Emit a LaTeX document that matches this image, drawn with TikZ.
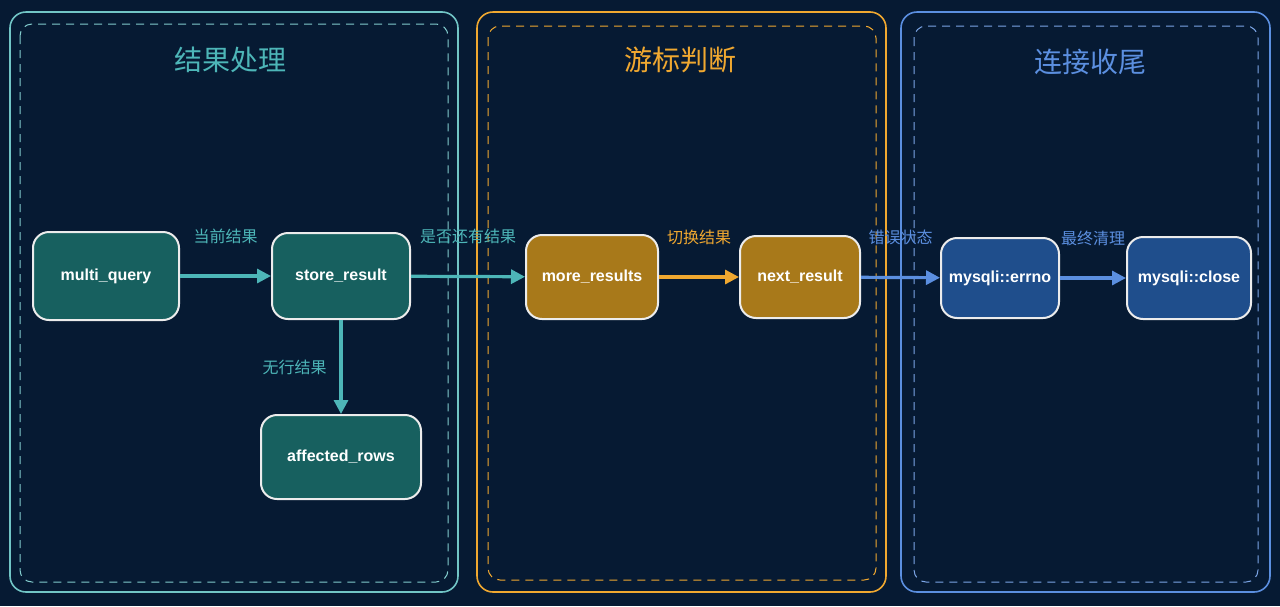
\documentclass[tikz,border=0pt]{standalone}
\usepackage{fontspec}
\setmainfont{Liberation Sans}
\newfontfamily\cjk{Noto Sans CJK SC}
\usetikzlibrary{arrows.meta,positioning}
\definecolor{bg_dark}{HTML}{061A33}
\definecolor{my_teal}{HTML}{4DB6B8}
\definecolor{my_orange}{HTML}{F0A830}
\definecolor{my_blue}{HTML}{5B8FE0}
\definecolor{fill_teal}{HTML}{17605F}
\definecolor{fill_orange}{HTML}{A8791A}
\definecolor{fill_blue}{HTML}{1F4E8C}
\tikzset{
  funcnode/.style = {draw=white!85!gray, line width=1pt, rounded corners=8pt, text=white,
    font=\bfseries\fontsize{8}{10}\selectfont, align=center},
  edgelabel/.style = {font=\cjk\fontsize{8}{10}\selectfont},
  title/.style = {font=\cjk\fontsize{14}{16}\selectfont},
  panel/.style = {line width=0.8pt, rounded corners=8pt},
  inner_panel/.style = {line width=0.5pt, dashed, dash pattern=on 4pt off 3pt, rounded corners=6pt}
}
\begin{document}
\begin{tikzpicture}[x=0.5pt,y=-0.5pt,
    flow/.style={-{Triangle[length=7pt,width=7pt]}, line width=1.6pt}]
  \fill[bg_dark] (0,0) rectangle (1280,606);
  \useasboundingbox (0,0) rectangle (1280,606);
  % panels
  \draw[panel, my_teal!80] (10,12) rectangle (458,592);
  \draw[inner_panel, my_teal!70] (20,24) rectangle (448,582);
  \draw[panel, my_orange] (477,12) rectangle (886,592);
  \draw[inner_panel, my_orange] (488,26) rectangle (876,580);
  \draw[panel, my_blue] (901,12) rectangle (1270,592);
  \draw[inner_panel, my_blue!80] (914,26) rectangle (1258,582);
  \node[title, text=my_teal] (t_result) at (230,60) {结果处理};
  \node[title, text=my_orange] (t_cursor) at (680,60) {游标判断};
  \node[title, text=my_blue] (t_conn) at (1090,62) {连接收尾};
  % nodes
  \node[funcnode, fill=fill_teal, minimum width=73pt, minimum height=44pt] (multi) at (106,276) {multi\_query};
  \node[funcnode, fill=fill_teal, minimum width=69pt, minimum height=43pt] (store) at (341,276) {store\_result};
  \node[funcnode, fill=fill_teal, minimum width=80pt, minimum height=42pt] (affected) at (341,457) {affected\_rows};
  \node[funcnode, fill=fill_orange, minimum width=66pt, minimum height=42pt] (more) at (592,277) {more\_results};
  \node[funcnode, fill=fill_orange, minimum width=60pt, minimum height=41pt] (next) at (800,277) {next\_result};
  \node[funcnode, fill=fill_blue, minimum width=59pt, minimum height=40pt] (errno) at (1000,278) {mysqli::errno};
  \node[funcnode, fill=fill_blue, minimum width=62pt, minimum height=41pt] (close) at (1189,278) {mysqli::close};
  % edges
  \draw[flow, my_teal] (multi) -- node[edgelabel, above=12pt] {当前结果} (store);
  \draw[flow, my_teal] (store) -- node[edgelabel, above=12pt] {是否还有结果} (more);
  \draw[flow, my_teal] (store) -- node[edgelabel, left=3pt] {无行结果} (affected);
  \draw[flow, my_orange] (more) -- node[edgelabel, above=12pt] {切换结果} (next);
  \draw[flow, my_blue] (next) -- node[edgelabel, above=12pt] {错误状态} (errno);
  \draw[flow, my_blue] (errno) -- node[edgelabel, above=12pt] {最终清理} (close);
\end{tikzpicture}
\end{document}
